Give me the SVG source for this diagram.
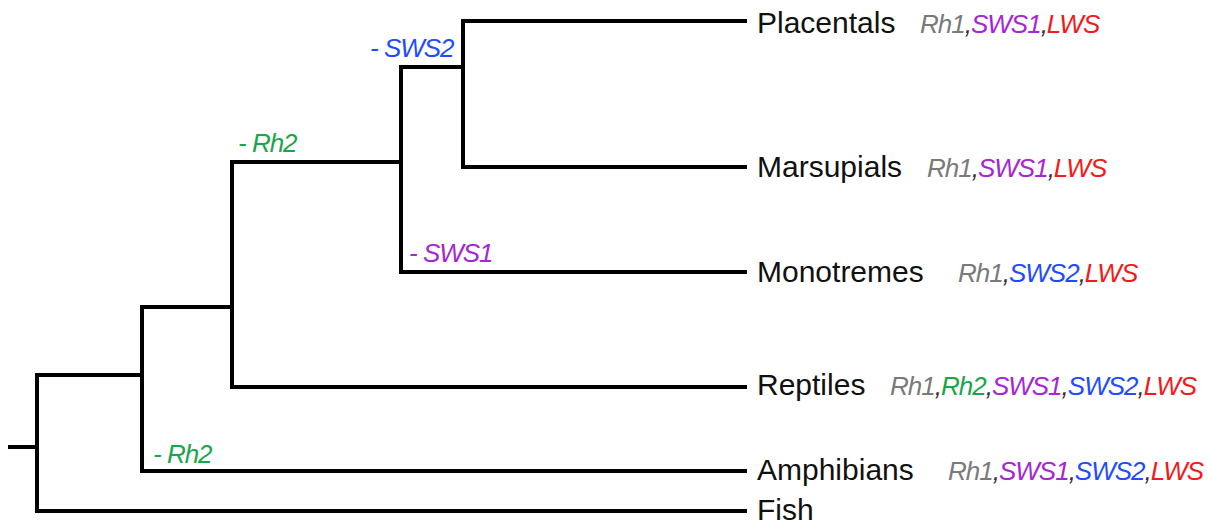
<svg xmlns="http://www.w3.org/2000/svg" width="1209" height="526" viewBox="0 0 1209 526">
<style>
.br{fill:none;stroke:#000;stroke-width:4;stroke-linecap:square}
.tx{font-family:"Liberation Sans",Arial,sans-serif;font-size:30px;fill:#111}
.g{font-family:"Liberation Sans",Arial,sans-serif;font-size:26px;font-style:italic;letter-spacing:-1px}
.rh1{fill:#7a7a7a}.rh2{fill:#1aa64a}.s1{fill:#a626d6}.s2{fill:#1f4cff}.lw{fill:#f21a1a}.c{fill:#333}
</style>
<rect width="1209" height="526" fill="#fff"/>
<g id="connectors">
<path class="br" d="M10,447H37M37,375V511H745M37,375H142M142,307V471H745M142,307H232M232,162V387H745M232,162H401M401,67V272H745M401,67H463M463,21V167H745M463,21H745"/>
</g>
<g id="branch-labels" class="g">
<text x="370" y="57" class="s2">- SWS2</text>
<text x="238" y="152" class="rh2">- Rh2</text>
<text x="409" y="262" class="s1">- SWS1</text>
<text x="153" y="463" class="rh2">- Rh2</text>
</g>
<g id="placentals">
<text class="tx" x="757" y="33">Placentals</text>
<text class="g" x="920" y="33"><tspan class="rh1">Rh1</tspan><tspan class="c">,</tspan><tspan class="s1">SWS1</tspan><tspan class="c">,</tspan><tspan class="lw">LWS</tspan></text>
</g>
<g id="marsupials">
<text class="tx" x="757" y="177">Marsupials</text>
<text class="g" x="927" y="177"><tspan class="rh1">Rh1</tspan><tspan class="c">,</tspan><tspan class="s1">SWS1</tspan><tspan class="c">,</tspan><tspan class="lw">LWS</tspan></text>
</g>
<g id="monotremes">
<text class="tx" x="757" y="282">Monotremes</text>
<text class="g" x="958" y="282"><tspan class="rh1">Rh1</tspan><tspan class="c">,</tspan><tspan class="s2">SWS2</tspan><tspan class="c">,</tspan><tspan class="lw">LWS</tspan></text>
</g>
<g id="reptiles">
<text class="tx" x="757" y="395">Reptiles</text>
<text class="g" x="890" y="395"><tspan class="rh1">Rh1</tspan><tspan class="c">,</tspan><tspan class="rh2">Rh2</tspan><tspan class="c">,</tspan><tspan class="s1">SWS1</tspan><tspan class="c">,</tspan><tspan class="s2">SWS2</tspan><tspan class="c">,</tspan><tspan class="lw">LWS</tspan></text>
</g>
<g id="amphibians">
<text class="tx" x="757" y="480">Amphibians</text>
<text class="g" x="948" y="480"><tspan class="rh1">Rh1</tspan><tspan class="c">,</tspan><tspan class="s1">SWS1</tspan><tspan class="c">,</tspan><tspan class="s2">SWS2</tspan><tspan class="c">,</tspan><tspan class="lw">LWS</tspan></text>
</g>
<g id="fish">
<text class="tx" x="757" y="520">Fish</text>
</g>
</svg>
